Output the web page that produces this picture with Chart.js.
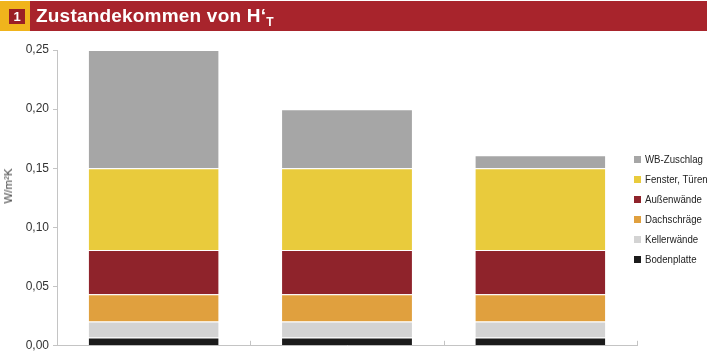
<!DOCTYPE html>
<html>
<head>
<meta charset="utf-8">
<script src="https://cdn.jsdelivr.net/npm/chart.js@4/dist/chart.umd.min.js"></script>
<style>
  html, body { margin: 0; padding: 0; background: #fff; }
  #wrap { position: relative; width: 708px; height: 353px; overflow: hidden; }
  #chart { position: absolute; left: 0; top: 0; }
  #band { position: absolute; left: 0; top: 1px; width: 707px; height: 30px; background: #a8242c; }
  #num { position: absolute; left: 0; top: 0; width: 30px; height: 30px; background: #f0b41c; }
  #num span { position: absolute; left: 9px; top: 8px; width: 16px; height: 15px; background: #9a1e25;
    color: #fff; font: bold 13px "Liberation Sans", Arial, sans-serif; text-align: center; line-height: 15px; }
  #title { position: absolute; left: 36px; top: 3px; color: #fff; font: bold 19px "Liberation Sans", Arial, sans-serif;
    letter-spacing: 0.2px; line-height: 24px; white-space: nowrap; }
  #title sub { font-size: 12px; vertical-align: -4px; }
  #ylab { position: absolute; left: 8px; top: 186px; transform: translate(-50%, -50%) rotate(-90deg);
    font: normal 11.5px "Liberation Sans", sans-serif; color: #444; white-space: nowrap; }
  #legend { position: absolute; left: 634px; top: 150px; font: normal 11.5px "Liberation Sans", sans-serif; color: #222; }
  #legend div { height: 20px; line-height: 18px; white-space: nowrap; }
  #legend i { display: inline-block; width: 7px; height: 7px; margin-right: 4px; vertical-align: 0px; }
  #legend span { display: inline-block; transform: scaleX(0.84); transform-origin: left center; }
</style>
</head>
<body>
<div id="wrap">
  <canvas id="chart" width="708" height="357"></canvas>
  <div id="band"><div id="num"><span>1</span></div><div id="title">Zustandekommen von H‘<sub>T</sub></div></div>
  <div id="ylab">W/m²K</div>
  <div id="legend"></div>
</div>
<script>
const categories = ['1', '2', '3'];
const bodenplatte = [0.007, 0.007, 0.007];
const kellerwaende = [0.0135, 0.0135, 0.0135];
const dachschraege = [0.023, 0.023, 0.023];
const aussenwaende = [0.0375, 0.0375, 0.0375];
const fenster = [0.069, 0.069, 0.069];
const wbZuschlag = [0.10, 0.05, 0.011];
const yTicks = [0, 0.05, 0.10, 0.15, 0.20, 0.25];

const fontName = '"Liberation Sans", Arial, sans-serif';

function ds(label, values, color) {
  return {
    label, data: values, backgroundColor: color,
    borderColor: 'rgba(255,255,255,0.55)',
    borderWidth: { top: 1, left: 0, right: 0, bottom: 0 },
    borderSkipped: 'start',
    barPercentage: 0.672, categoryPercentage: 1.0
  };
}

const datasets = [
  ds('Bodenplatte', bodenplatte, '#1b1b1b'),
  ds('Kellerwände', kellerwaende, '#d3d3d3'),
  ds('Dachschräge', dachschraege, '#e0a03e'),
  ds('Außenwände', aussenwaende, '#8f232b'),
  ds('Fenster, Türen', fenster, '#e9cb3c'),
  ds('WB-Zuschlag', wbZuschlag, '#a6a6a6')
];

// small upward ticks on the x axis at category boundaries
const xTickMarks = {
  id: 'xTickMarks',
  afterDraw(chart) {
    const x = chart.scales.x, y0 = chart.chartArea.bottom;
    const c = chart.ctx;
    c.save();
    c.strokeStyle = '#c4c4c4';
    c.lineWidth = 1;
    const step = (x.right - x.left) / categories.length;
    for (let i = 1; i <= categories.length; i++) {
      const px = Math.round(x.left + step * i) + 0.5;
      c.beginPath();
      c.moveTo(px, y0);
      c.lineTo(px, y0 - 5);
      c.stroke();
    }
    c.restore();
  }
};

const chart = new Chart(document.getElementById('chart'), {
  type: 'bar',
  data: { labels: categories, datasets },
  plugins: [xTickMarks],
  options: {
    responsive: false,
    animation: false,
    layout: { padding: { left: 0, right: 71, top: 50, bottom: 4 } },
    plugins: { legend: { display: false }, tooltip: { enabled: false } },
    scales: {
      x: {
        stacked: true,
        ticks: { display: false },
        grid: { display: false, drawTicks: false },
        border: { display: true, color: '#c4c4c4' },
        afterFit(s) { s.height = 0; }
      },
      y: {
        stacked: true,
        min: 0, max: 0.25,
        afterBuildTicks(s) { s.ticks = yTicks.map(v => ({ value: v })); },
        ticks: {
          padding: 4,
          color: '#333',
          font: { family: fontName, size: 12 },
          callback: v => v.toFixed(2).replace('.', ',')
        },
        grid: { drawOnChartArea: false, drawTicks: true, tickLength: 4, color: '#c4c4c4' },
        border: { display: true, color: '#c4c4c4' },
        afterFit(s) { s.width = 57; }
      }
    }
  }
});

const legend = document.getElementById('legend');
datasets.slice().reverse().forEach(d => {
  const row = document.createElement('div');
  const box = document.createElement('i');
  box.style.background = d.backgroundColor;
  const txt = document.createElement('span');
  txt.textContent = d.label;
  row.appendChild(box);
  row.appendChild(txt);
  legend.appendChild(row);
});
</script>
</body>
</html>
